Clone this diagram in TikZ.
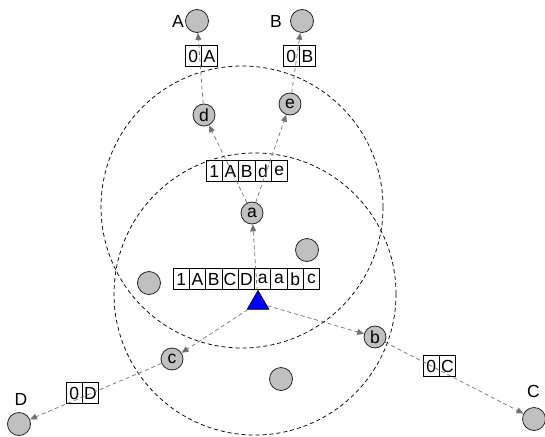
\documentclass[tikz,border=0pt]{standalone}
\usepackage{fontspec}
\setmainfont{Liberation Sans}
\usetikzlibrary{arrows.meta,shapes.geometric}

\definecolor{nodegray}{RGB}{192,192,192}
\definecolor{linkgray}{RGB}{120,120,120}

\tikzset{
  txt/.style={font=\fontsize{17.5}{19}\selectfont},
  hostnode/.style={circle, draw=black!85, line width=0.8pt, fill=nodegray, minimum size=23pt, inner sep=0pt},
  relaynode/.style={hostnode, minimum size=22pt, txt},
  hdrcell/.style={draw=black, line width=0.7pt, minimum width=16.3pt, minimum height=21pt, inner sep=0pt, txt},
  fwdlink/.style={draw=linkgray, line width=0.75pt, dash pattern=on 4pt off 3pt,
    -{Triangle[length=7pt,width=6pt,fill=linkgray!90!black]}},
  rangeline/.style={draw=black, line width=0.75pt, dash pattern=on 4pt off 3pt},
  srcnode/.style={regular polygon, regular polygon sides=3, draw=black, line width=0.7pt,
    fill=blue, minimum size=25pt, inner sep=0pt}
}

% a row of labelled cells: #1 prefix, #2 left x, #3 centre y, #4 list of entries
\newcommand{\cellrow}[4]{%
  \foreach \t [count=\i] in {#4} {
    \node[hdrcell] (#1\i) at ({#2 + 8.15 + (\i-1)*16.3}, #3) {\t};
  }%
}

\begin{document}
\begin{tikzpicture}[x=1pt, y=-1pt]
  \useasboundingbox (0,0) rectangle (545,436);

  % transmission ranges
  \draw[rangeline] (242,207) circle (141);
  \draw[rangeline] (255,294) circle (141);

  % nodes
  \node[hostnode] (A) at (197,21) {};
  \node[hostnode] (B) at (302,21) {};
  \node[hostnode] (C) at (534,419) {};
  \node[hostnode] (D) at (19,424) {};
  \node[txt] (lA) at (178,21) {A};
  \node[txt] (lB) at (276,21) {B};
  \node[txt] (lC) at (533.5,391) {C};
  \node[txt] (lD) at (21,399) {D};

  \node[relaynode] (d) at (204,115) {d};
  \node[relaynode] (e) at (290,104) {e};
  \node[relaynode] (a) at (252,213) {a};
  \node[relaynode] (b) at (375,337) {b};
  \node[relaynode] (c) at (172,359) {c};

  \node[hostnode] (n1) at (307,250) {};
  \node[hostnode] (n2) at (149,283) {};
  \node[hostnode] (n3) at (281,379) {};

  \node[srcnode] (s) at (258,303) {};

  % packet headers
  \cellrow{pa}{185}{56}{0,A}
  \cellrow{pb}{283}{56}{0,B}
  \cellrow{pde}{206}{171}{1,A,B,d,e}
  \cellrow{ps}{173}{279}{1,A,B,C,D,a,a,b,c}
  \cellrow{pd}{66}{393}{0,D}
  \cellrow{pc}{423}{366}{0,C}

  % forwarding links
  \draw[fwdlink] (s) -- (a);
  \draw[fwdlink] (a) -- (d);
  \draw[fwdlink] (a) -- (e);
  \draw[fwdlink] (d) -- (A);
  \draw[fwdlink] (e) -- (B);
  \draw[fwdlink] (s) -- (c);
  \draw[fwdlink] (s) -- (b);
  \draw[fwdlink] (c) -- (D);
  \draw[fwdlink] (b) -- (C);
\end{tikzpicture}
\end{document}
